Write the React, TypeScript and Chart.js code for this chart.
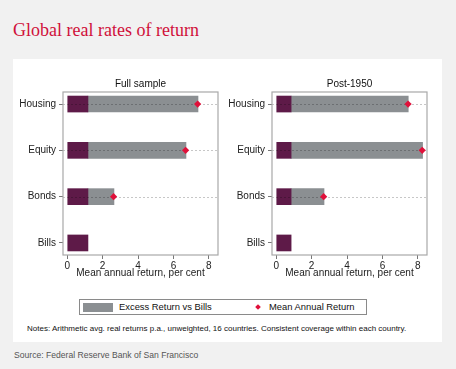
import React, { useEffect, useRef } from "react";
import { Chart, registerables } from "chart.js";

Chart.register(...registerables);

const categories = ["Housing", "Equity", "Bonds", "Bills"];
const xTickValues = [0, 2, 4, 6, 8];

const fullBills = [1.17, 1.17, 1.17, 1.17];
const fullExcess = [6.22, 5.54, 1.47, null];
const fullMean = [7.37, 6.69, 2.62, null];

const postBills = [0.84, 0.84, 0.84, 0.84];
const postExcess = [6.62, 7.43, 1.86, null];
const postMean = [7.45, 8.25, 2.68, null];

const FONT = "'Liberation Sans', Arial, Helvetica, sans-serif";
const PURPLE = "#5e1a48";
const GREY = "#8b8f92";
const RED = "#e0103a";

const boxPlugin = {
  id: "panelBox",
  beforeDatasetDraw(chart: any, args: any) {
    if (args.index !== 0) return;
    const { ctx, chartArea } = chart;
    const ys = chart.scales.y;
    const mean = chart.options.plugins.panelBox.mean as (number | null)[];
    ctx.save();
    ctx.strokeStyle = "rgba(0,0,0,0.22)";
    ctx.lineWidth = 1;
    ctx.setLineDash([2, 2]);
    mean.forEach((v, i) => {
      if (v == null) return;
      const y = Math.round(ys.getPixelForValue(i)) + 0.5;
      ctx.beginPath();
      ctx.moveTo(chartArea.left, y);
      ctx.lineTo(chartArea.right, y);
      ctx.stroke();
    });
    ctx.restore();
  },
  afterDraw(chart: any) {
    const { ctx, chartArea } = chart;
    ctx.save();
    ctx.strokeStyle = "#a8a8a8";
    ctx.lineWidth = 1.2;
    ctx.strokeRect(chartArea.left, chartArea.top, chartArea.right - chartArea.left, chartArea.bottom - chartArea.top);
    ctx.restore();
  },
};

function makeConfig(title: string, bills: number[], excess: (number | null)[], mean: (number | null)[]): any {
  const toPoints = (arr: (number | null)[]) =>
    arr.map((v, i) => (v == null ? null : { x: v, y: i })).filter((p) => p !== null);
  return {
    type: "bar",
    data: {
      datasets: [
        {
          type: "line",
          label: "Mean Annual Return",
          data: toPoints(mean),
          showLine: false,
          pointStyle: "rectRot",
          pointRadius: 3.6,
          pointBackgroundColor: RED,
          pointBorderColor: RED,
          pointBorderWidth: 0,
          order: 0,
        },
        {
          label: "Bills",
          data: toPoints(bills),
          backgroundColor: PURPLE,
          barThickness: 16,
          order: 1,
        },
        {
          label: "Excess Return vs Bills",
          data: toPoints(excess),
          backgroundColor: GREY,
          barThickness: 16,
          order: 2,
        },
      ],
    },
    options: {
      indexAxis: "y",
      animation: false,
      responsive: false,
      maintainAspectRatio: false,
      layout: { padding: 0 },
      plugins: {
        legend: { display: false },
        tooltip: { enabled: false },
        panelBox: { mean },
        title: {
          display: true,
          text: title,
          fullSize: false,
          color: "#111",
          font: { family: FONT, size: 10, weight: "normal", lineHeight: 1.2 },
          padding: { top: 2, bottom: 2 },
        },
      },
      scales: {
        x: {
          type: "linear",
          stacked: true,
          offset: false,
          min: -0.24,
          max: 8.52,
          afterBuildTicks: (scale: any) => {
            scale.ticks = xTickValues.map((v) => ({ value: v }));
          },
          afterFit: (scale: any) => {
            scale.height = 25;
          },
          border: { display: false },
          grid: { offset: false, drawOnChartArea: false, drawTicks: true, tickLength: 4, color: "#777" },
          ticks: { font: { family: FONT, size: 10 }, color: "#222", padding: 1, maxRotation: 0 },
          title: {
            display: true,
            text: "Mean annual return, per cent",
            color: "#222",
            font: { family: FONT, size: 10 },
            padding: { top: 0, bottom: 1 },
          },
        },
        y: {
          type: "linear",
          stacked: true,
          offset: false,
          reverse: true,
          min: -0.26,
          max: 3.26,
          afterBuildTicks: (scale: any) => {
            scale.ticks = categories.map((_, i) => ({ value: i }));
          },
          afterFit: (scale: any) => {
            scale.width = 50;
          },
          border: { display: false },
          grid: { offset: false, drawOnChartArea: false, drawTicks: true, tickLength: 4, color: "#777" },
          ticks: {
            font: { family: FONT, size: 10 },
            color: "#222",
            padding: 3,
            callback: (v: any) => categories[v] ?? "",
          },
        },
      },
    },
    plugins: [boxPlugin],
  };
}

function Panel(props: { title: string; bills: number[]; excess: (number | null)[]; mean: (number | null)[]; left: number }) {
  const ref = useRef<HTMLCanvasElement>(null);
  useEffect(() => {
    const chart = new Chart(ref.current as HTMLCanvasElement, makeConfig(props.title, props.bills, props.excess, props.mean));
    return () => chart.destroy();
  }, []);
  return (
    <canvas
      ref={ref}
      width={209}
      height={204}
      style={{ position: "absolute", left: props.left, top: 76, width: 209, height: 204 }}
    />
  );
}

export default function App() {
  return (
    <div
      style={{
        position: "fixed",
        left: 0,
        top: 0,
        width: 456,
        height: 369,
        background: "#f1f1f1",
        fontFamily: FONT,
        overflow: "hidden",
      }}
    >
      <div
        style={{
          position: "absolute",
          left: 13,
          top: 21,
          fontFamily: "'Liberation Serif', 'Times New Roman', serif",
          fontSize: 18,
          lineHeight: "18px",
          color: "#d0103a",
          whiteSpace: "nowrap",
        }}
      >
        Global real rates of return
      </div>
      <div style={{ position: "absolute", left: 13, top: 59, width: 429, height: 283, background: "#fff" }} />
      <Panel title="Full sample" bills={fullBills} excess={fullExcess} mean={fullMean} left={13} />
      <Panel title="Post-1950" bills={postBills} excess={postExcess} mean={postMean} left={222} />
      <div
        style={{
          position: "absolute",
          left: 79,
          top: 299,
          width: 286,
          height: 14,
          border: "1px solid #8a8a8a",
          background: "#fff",
        }}
      >
        <div style={{ position: "absolute", left: 3, top: 3, width: 30, height: 8.5, background: GREY }} />
        <div
          style={{
            position: "absolute",
            left: 39,
            top: 1,
            fontSize: 9.4,
            lineHeight: "12px",
            color: "#111",
            whiteSpace: "nowrap",
          }}
        >
          Excess Return vs Bills
        </div>
        <div
          style={{
            position: "absolute",
            left: 175.5,
            top: 5,
            width: 4,
            height: 4,
            background: RED,
            transform: "rotate(45deg)",
          }}
        />
        <div
          style={{
            position: "absolute",
            left: 189,
            top: 1,
            fontSize: 9.4,
            lineHeight: "12px",
            color: "#111",
            whiteSpace: "nowrap",
          }}
        >
          Mean Annual Return
        </div>
      </div>
      <div
        style={{
          position: "absolute",
          left: 27,
          top: 325,
          fontSize: 8,
          lineHeight: "8px",
          color: "#111",
          whiteSpace: "nowrap",
        }}
      >
        Notes: Arithmetic avg. real returns p.a., unweighted, 16 countries. Consistent coverage within each country.
      </div>
      <div
        style={{
          position: "absolute",
          left: 14,
          top: 351,
          fontSize: 8.6,
          lineHeight: "8.6px",
          color: "#555",
          whiteSpace: "nowrap",
        }}
      >
        Source: Federal Reserve Bank of San Francisco
      </div>
    </div>
  );
}
